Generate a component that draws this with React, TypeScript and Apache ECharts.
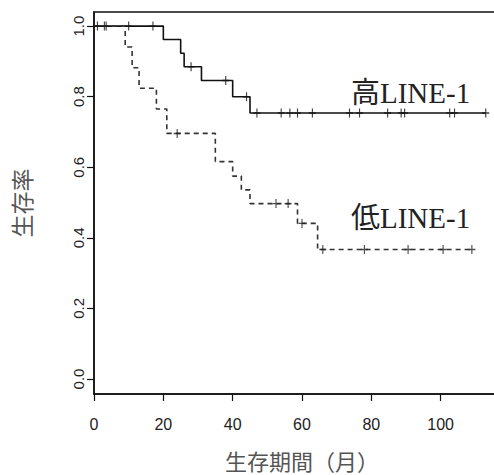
import React, { useEffect, useRef } from "react";
import * as echarts from "echarts";

// Kaplan-Meier step data (time in months, survival probability after the event)
const highTimes = [0, 20, 25, 26, 31, 40, 45, 113];
const highSurv = [1, 0.962, 0.923, 0.885, 0.846, 0.8, 0.754, 0.754];
const highCensor = [1, 3.5, 10, 17, 28, 38, 44, 47, 54, 56.5, 58.7, 63, 73.7, 76.6, 84.7, 88.6, 89.6, 102.6, 104, 113];

const lowTimes = [0, 9, 11, 13, 18, 21, 35, 40, 42.5, 45, 58.7, 64.5, 109];
const lowSurv = [1, 0.941, 0.882, 0.824, 0.765, 0.696, 0.616, 0.575, 0.536, 0.497, 0.441, 0.367, 0.367];
const lowCensor = [3, 24, 52.5, 56, 60, 66, 78, 90.6, 100.7, 109];

const xTickLabels = [0, 20, 40, 60, 80, 100];
const yTicks = [0, 0.2, 0.4, 0.6, 0.8, 1.0];
const seriesLabels = ["高LINE-1", "低LINE-1"];
const xTitle = "生存期間（月）";
const yTitle = "生存率";

function survAt(times: number[], surv: number[], t: number): number {
  let s = surv[0];
  for (let i = 0; i < times.length; i++) {
    if (times[i] <= t) s = surv[i];
  }
  return s;
}

const plusSymbol = "path://M5,0L5,10M0,5L10,5";

export default function App() {
  const ref = useRef<HTMLDivElement>(null);
  useEffect(() => {
    if (!ref.current) return;
    const chart = echarts.init(ref.current, undefined, { renderer: "svg" });
    const tickFont = "'Liberation Sans', Arial, sans-serif";
    const cjkFont = "'Noto Sans CJK JP', sans-serif";
    chart.setOption({
      animation: false,
      backgroundColor: "#fff",
      grid: {
        left: 94,
        top: 12,
        right: 2,
        bottom: 81,
        show: true,
        outerBoundsMode: "none",
        containLabel: false,
        borderColor: "#111",
        borderWidth: 1.5,
        backgroundColor: "transparent",
      },
      xAxis: {
        type: "value",
        min: 0,
        max: 120,
        interval: 20,
        name: xTitle,
        nameLocation: "middle",
        nameGap: 55,
        nameTextStyle: { fontFamily: cjkFont, fontSize: 22, color: "#555" },
        axisLine: { show: true, onZero: false, lineStyle: { color: "#111", width: 1.5 } },
        axisTick: { show: true, inside: false, length: 7, lineStyle: { color: "#111", width: 1.2 } },
        axisLabel: {
          fontFamily: tickFont,
          fontSize: 16,
          color: "#222",
          margin: 22,
          customValues: xTickLabels,
        },
        splitLine: { show: false },
      },
      yAxis: {
        type: "value",
        min: -0.0425,
        max: 1.04,
        name: yTitle,
        nameLocation: "middle",
        nameGap: 62,
        nameRotate: 90,
        nameTextStyle: { fontFamily: cjkFont, fontSize: 23, color: "#555" },
        axisLine: { show: true, onZero: false, lineStyle: { color: "#111", width: 1.5 } },
        axisTick: {
          show: true,
          inside: false,
          length: 7,
          customValues: yTicks,
          lineStyle: { color: "#111", width: 1.2 },
        },
        axisLabel: {
          fontFamily: tickFont,
          fontSize: 15,
          color: "#222",
          rotate: 90,
          margin: 8,
          customValues: yTicks,
          formatter: (v: number) => v.toFixed(1),
        },
        splitLine: { show: false },
      },
      graphic: [
        {
          type: "text",
          left: 351,
          top: 78,
          style: {
            text: seriesLabels[0],
            font: "29px 'Liberation Serif', 'Noto Sans CJK JP', serif",
            fill: "#222",
          },
        },
        {
          type: "text",
          left: 351,
          top: 203,
          style: {
            text: seriesLabels[1],
            font: "29px 'Liberation Serif', 'Noto Sans CJK JP', serif",
            fill: "#222",
          },
        },
      ],
      series: [
        {
          type: "line",
          step: "end",
          data: highTimes.map((t, i) => [t, highSurv[i]]),
          symbol: "none",
          lineStyle: { color: "#111", width: 1.6 },
          z: 3,
        },
        {
          type: "line",
          step: "end",
          data: lowTimes.map((t, i) => [t, lowSurv[i]]),
          symbol: "none",
          lineStyle: { color: "#333", width: 1.6, type: [5, 4] },
          z: 3,
        },
        {
          type: "scatter",
          data: highCensor.map((t) => [t, survAt(highTimes, highSurv, t)]),
          symbol: plusSymbol,
          symbolSize: [7, 9],
          itemStyle: { color: "transparent", borderColor: "#111", borderWidth: 1.3 },
          z: 4,
        },
        {
          type: "scatter",
          data: lowCensor.map((t) => [t, survAt(lowTimes, lowSurv, t)]),
          symbol: plusSymbol,
          symbolSize: [7, 9],
          itemStyle: { color: "transparent", borderColor: "#222", borderWidth: 1.3 },
          z: 4,
        },
      ],
    });
    return () => chart.dispose();
  }, []);
  return (
    <div
      ref={ref}
      style={{ position: "fixed", left: 0, top: 0, width: 512, height: 475, background: "#fff" }}
    />
  );
}
